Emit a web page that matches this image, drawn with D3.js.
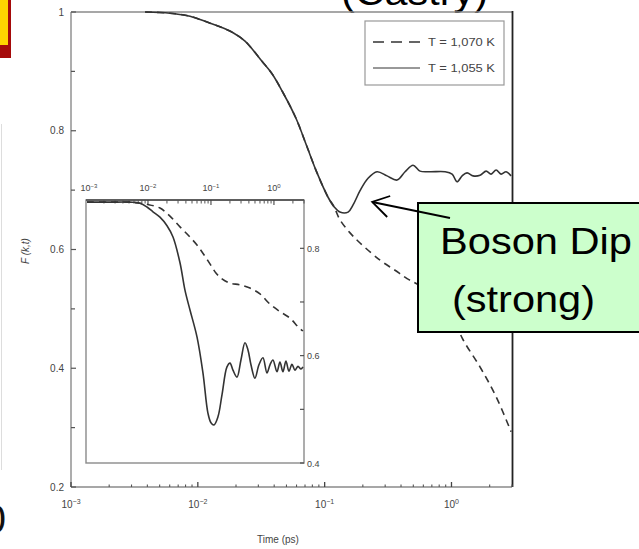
<!DOCTYPE html>
<html>
<head>
<meta charset="utf-8">
<script src="https://cdn.jsdelivr.net/npm/d3@7"></script>
<style>
  body { margin: 0; background: #fff; }
  svg { display: block; }
  text { font-family: "Liberation Sans", Arial, sans-serif; }
</style>
</head>
<body>
<svg id="chart" width="639" height="549"></svg>
<script>
// main panel: F(k,t) vs time (ps)
const mainTimeSolid = [0.00384, 0.00604, 0.00868, 0.01183, 0.01496, 0.01896, 0.02355, 0.02722, 0.03206, 0.03846,
  0.0470, 0.0594, 0.0726, 0.0871, 0.1064, 0.1186, 0.1320, 0.1531, 0.1675, 0.1901, 0.2198, 0.2588, 0.3105, 0.3725,
  0.4305, 0.4977, 0.5649, 0.6776, 0.8913, 1.011, 1.107, 1.213, 1.327, 1.480, 1.681, 1.875, 2.052, 2.249, 2.460, 2.697, 2.951];
const mainFSolid = [1.000, 0.998, 0.993, 0.983, 0.975, 0.965, 0.951, 0.936, 0.917, 0.896,
  0.864, 0.821, 0.773, 0.729, 0.688, 0.672, 0.663, 0.663, 0.675, 0.699, 0.720, 0.731, 0.724, 0.717,
  0.731, 0.742, 0.732, 0.731, 0.731, 0.727, 0.714, 0.724, 0.729, 0.724, 0.725, 0.732, 0.727, 0.734, 0.727, 0.731, 0.724];

const mainTimeDashed = [0.00384, 0.00604, 0.00868, 0.01183, 0.01496, 0.01896, 0.02355, 0.02722, 0.03206, 0.03846,
  0.0470, 0.0594, 0.0726, 0.0871, 0.1064, 0.1186, 0.1320, 0.1585, 0.1901, 0.2735, 0.3589, 0.4467, 0.5649, 0.7434,
  0.975, 1.234, 1.681, 2.249, 2.951];
const mainFDashed = [1.000, 0.998, 0.993, 0.983, 0.975, 0.965, 0.951, 0.936, 0.917, 0.896,
  0.864, 0.821, 0.773, 0.729, 0.688, 0.672, 0.650, 0.628, 0.611, 0.582, 0.565, 0.551, 0.539, 0.522,
  0.495, 0.448, 0.402, 0.352, 0.293];

// inset panel
const insetTimeSolid = [0.001076, 0.002495, 0.005176, 0.00746, 0.00964, 0.0120, 0.01549, 0.02005, 0.02496, 0.03223,
  0.03865, 0.04645, 0.0600, 0.0746, 0.0895, 0.1000, 0.1117, 0.1291, 0.1496, 0.1795, 0.2006, 0.2234, 0.2588, 0.2992,
  0.3467, 0.3862, 0.4315, 0.4988, 0.5781, 0.6683, 0.7745, 0.8650, 0.9638, 1.116, 1.245, 1.390, 1.549, 1.730, 1.931,
  2.154, 2.404, 2.683, 2.886];
const insetFSolid = [0.886, 0.886, 0.886, 0.884, 0.877, 0.868, 0.858, 0.842, 0.821, 0.773,
  0.722, 0.685, 0.635, 0.568, 0.493, 0.475, 0.471, 0.486, 0.527, 0.579, 0.586, 0.573, 0.560, 0.592,
  0.624, 0.611, 0.583, 0.558, 0.583, 0.596, 0.568, 0.583, 0.592, 0.570, 0.588, 0.570, 0.590, 0.571, 0.584,
  0.573, 0.580, 0.575, 0.579];

const insetTimeDashed = [0.001076, 0.002495, 0.005176, 0.00746, 0.00964, 0.01549, 0.02234, 0.03223, 0.04477, 0.0600,
  0.07745, 0.0964, 0.1199, 0.1496, 0.2006, 0.2884, 0.4159, 0.600, 0.865, 1.245, 1.795, 2.404, 2.886];
const insetFDashed = [0.886, 0.886, 0.886, 0.884, 0.882, 0.875, 0.860, 0.840, 0.823, 0.806,
  0.788, 0.771, 0.754, 0.743, 0.735, 0.732, 0.726, 0.715, 0.696, 0.682, 0.670, 0.654, 0.646];

const decadeTicks = [0.001, 0.01, 0.1, 1];
const decadeLabels = ["\u22123", "\u22122", "\u22121", "0"];
const mainYTicks = [0.2, 0.3, 0.4, 0.5, 0.6, 0.7, 0.8, 0.9, 1.0];
const mainYLabels = ["0.2", "", "0.4", "", "0.6", "", "0.8", "", "1"];
const insetYTicks = [0.4, 0.5, 0.6, 0.7, 0.8];
const insetYLabels = ["0.4", "", "0.6", "", "0.8"];
const legendLabels = ["T = 1,070 K", "T = 1,055 K"];
const dipPoint = {t: 0.237, f: 0.680};

const svg = d3.select("#chart");
const minorTicks = [];
decadeTicks.forEach(d => { for (let k = 2; k <= 9; k++) if (d * k <= 3) minorTicks.push(d * k); });

// ---- slide leftovers ----
svg.append("rect").attr("x", 0).attr("y", 0).attr("width", 11).attr("height", 58).attr("fill", "#a50a0a");
svg.append("rect").attr("x", 0).attr("y", 0).attr("width", 8).attr("height", 45).attr("fill", "#ffd400");
svg.append("line").attr("x1", 1.5).attr("x2", 1.5).attr("y1", 124).attr("y2", 470)
  .attr("stroke", "#ddd").attr("stroke-width", 1);
svg.append("text").attr("x", 6).attr("y", 533).attr("text-anchor", "end")
  .attr("font-size", 40).attr("fill", "#111").text("0");
svg.append("text").attr("x", 341).attr("y", 5).attr("font-size", 36)
  .attr("textLength", 147).attr("lengthAdjust", "spacingAndGlyphs").attr("fill", "#000").text("(Castry)");

// ---- main panel ----
const x = d3.scaleLog().domain([0.001, 3]).range([71, 512]);
const y = d3.scaleLinear().domain([0.2, 1]).range([487, 12]);

svg.append("defs").append("clipPath").attr("id", "mainClip")
  .append("rect").attr("x", 71).attr("y", 8).attr("width", 441).attr("height", 479);

const frameColor = "#8a8a8a";
const g = svg.append("g");
g.append("line").attr("x1", 71).attr("x2", 512).attr("y1", 12).attr("y2", 12).attr("stroke", frameColor).attr("stroke-width", 1.4);
g.append("line").attr("x1", 71).attr("x2", 512).attr("y1", 487).attr("y2", 487).attr("stroke", frameColor).attr("stroke-width", 1.4);
g.append("line").attr("x1", 71).attr("x2", 71).attr("y1", 12).attr("y2", 487).attr("stroke", frameColor).attr("stroke-width", 1.4);
g.append("line").attr("x1", 512.5).attr("x2", 512.5).attr("y1", 11).attr("y2", 487).attr("stroke", "#222").attr("stroke-width", 1.8);

// y ticks (inward)
g.selectAll(".ytick").data(mainYTicks).join("line")
  .attr("x1", 71).attr("x2", (d, i) => 71 + (mainYLabels[i] ? 5 : 4))
  .attr("y1", d => y(d)).attr("y2", d => y(d)).attr("stroke", "#555").attr("stroke-width", 1.2);
g.selectAll(".ylab").data(mainYTicks).join("text")
  .attr("x", 64).attr("y", d => y(d) + 3.5).attr("text-anchor", "end")
  .attr("font-size", 10).attr("fill", "#444").text((d, i) => mainYLabels[i]);

// x ticks (inward)
g.selectAll(".xmaj").data(decadeTicks).join("line")
  .attr("x1", d => x(d)).attr("x2", d => x(d)).attr("y1", 487).attr("y2", 482)
  .attr("stroke", "#444").attr("stroke-width", 1.3);
g.selectAll(".xmin").data(minorTicks).join("line")
  .attr("x1", d => x(d)).attr("x2", d => x(d)).attr("y1", 487).attr("y2", 484.5)
  .attr("stroke", "#555").attr("stroke-width", 1.1);
const xl = g.selectAll(".xlab").data(decadeTicks).join("text")
  .attr("x", d => x(d)).attr("y", 508).attr("text-anchor", "middle")
  .attr("font-size", 10).attr("fill", "#444");
xl.append("tspan").text("10");
xl.append("tspan").attr("dy", -4).attr("font-size", 7).text((d, i) => decadeLabels[i]);

g.append("text").attr("x", 278).attr("y", 543).attr("text-anchor", "middle")
  .attr("font-size", 10).attr("fill", "#444").text("Time (ps)");
g.append("text").attr("transform", "translate(29,251) rotate(-90)").attr("text-anchor", "middle")
  .attr("font-size", 10).attr("font-style", "italic").attr("fill", "#444").text("F (k,t)");

const mainLine = d3.line().x(d => x(d[0])).y(d => y(d[1])).curve(d3.curveCatmullRom.alpha(0.5));
const plot = g.append("g").attr("clip-path", "url(#mainClip)");
plot.append("path").datum(d3.zip(mainTimeDashed, mainFDashed)).attr("d", mainLine)
  .attr("fill", "none").attr("stroke", "#333").attr("stroke-width", 1.6).attr("stroke-dasharray", "7,5");
plot.append("path").datum(d3.zip(mainTimeSolid, mainFSolid)).attr("d", mainLine)
  .attr("fill", "none").attr("stroke", "#333").attr("stroke-width", 1.6);

// legend
const leg = g.append("g");
leg.append("rect").attr("x", 365).attr("y", 21).attr("width", 139).attr("height", 64)
  .attr("fill", "#fff").attr("stroke", "#999").attr("stroke-width", 1.2);
legendLabels.forEach((lab, i) => {
  const ly = 42 + i * 26;
  leg.append("line").attr("x1", 373).attr("x2", 420).attr("y1", ly).attr("y2", ly)
    .attr("stroke", "#333").attr("stroke-width", i ? 1 : 1.5).attr("stroke-dasharray", i ? null : "11,7");
  leg.append("text").attr("x", 428).attr("y", ly + 4).attr("font-size", 11)
    .attr("textLength", 67).attr("lengthAdjust", "spacingAndGlyphs").attr("fill", "#444")
    .text(lab).style("font-style", "normal");
});

// ---- inset ----
const ix = d3.scaleLog().domain([0.001, 3]).range([85, 304]);
const iy = d3.scaleLinear().domain([0.4, 0.89]).range([463, 200]);
svg.select("defs").append("clipPath").attr("id", "insetClip")
  .append("rect").attr("x", 86).attr("y", 200).attr("width", 218).attr("height", 263);

const ins = svg.append("g");
ins.append("rect").attr("x", 86).attr("y", 200).attr("width", 218).attr("height", 263)
  .attr("fill", "#fff").attr("stroke", frameColor).attr("stroke-width", 1.4);
ins.append("line").attr("x1", 86).attr("x2", 304).attr("y1", 200).attr("y2", 200)
  .attr("stroke", "#444").attr("stroke-width", 1.6);

ins.selectAll(".ixmaj").data(decadeTicks.filter(d => d > 0.001)).join("line")
  .attr("x1", d => ix(d)).attr("x2", d => ix(d)).attr("y1", 200).attr("y2", 205)
  .attr("stroke", "#444").attr("stroke-width", 1.1);
ins.selectAll(".ixmin").data(minorTicks).join("line")
  .attr("x1", d => ix(d)).attr("x2", d => ix(d)).attr("y1", 200).attr("y2", 203.5)
  .attr("stroke", "#555").attr("stroke-width", 1);
const ixl = ins.selectAll(".ixlab").data(decadeTicks).join("text")
  .attr("x", (d, i) => ix(d) + (i === 0 ? 4 : 0)).attr("y", 191).attr("text-anchor", "middle")
  .attr("font-size", 9).attr("fill", "#444");
ixl.append("tspan").text("10");
ixl.append("tspan").attr("dy", -3.5).attr("font-size", 6).text((d, i) => decadeLabels[i]);

ins.selectAll(".iytick").data(insetYTicks).join("line")
  .attr("x1", 304).attr("x2", 300).attr("y1", d => iy(d)).attr("y2", d => iy(d))
  .attr("stroke", "#444").attr("stroke-width", 1.1);
ins.selectAll(".iylab").data(insetYTicks).join("text")
  .attr("x", 307).attr("y", d => iy(d) + 3.5).attr("font-size", 9).attr("fill", "#444")
  .text((d, i) => insetYLabels[i]);

const insetLine = d3.line().x(d => ix(d[0])).y(d => iy(d[1])).curve(d3.curveCatmullRom.alpha(0.5));
const iplot = ins.append("g").attr("clip-path", "url(#insetClip)");
iplot.append("path").datum(d3.zip(insetTimeDashed, insetFDashed)).attr("d", insetLine)
  .attr("fill", "none").attr("stroke", "#333").attr("stroke-width", 1.6).attr("stroke-dasharray", "7,5");
iplot.append("path").datum(d3.zip(insetTimeSolid, insetFSolid)).attr("d", insetLine)
  .attr("fill", "none").attr("stroke", "#333").attr("stroke-width", 1.6);

// ---- annotation ----
const ann = svg.append("g");
ann.append("rect").attr("x", 418).attr("y", 203).attr("width", 240).attr("height", 129)
  .attr("fill", "#ccffcc").attr("stroke", "#000").attr("stroke-width", 2);
ann.append("text").attr("x", 440).attr("y", 254).attr("font-size", 36)
  .attr("textLength", 192).attr("lengthAdjust", "spacingAndGlyphs").attr("fill", "#000").text("Boson Dip");
ann.append("text").attr("x", 452).attr("y", 312).attr("font-size", 36)
  .attr("textLength", 143).attr("lengthAdjust", "spacingAndGlyphs").attr("fill", "#000").text("(strong)");

const tx = x(dipPoint.t), ty = y(dipPoint.f);
ann.append("line").attr("x1", 450).attr("y1", 218).attr("x2", tx).attr("y2", ty)
  .attr("stroke", "#000").attr("stroke-width", 1.8);
ann.append("polyline").attr("points", `${tx + 18},${ty - 6} ${tx},${ty} ${tx + 15},${ty + 15}`)
  .attr("fill", "none").attr("stroke", "#000").attr("stroke-width", 1.8);
</script>
</body>
</html>
